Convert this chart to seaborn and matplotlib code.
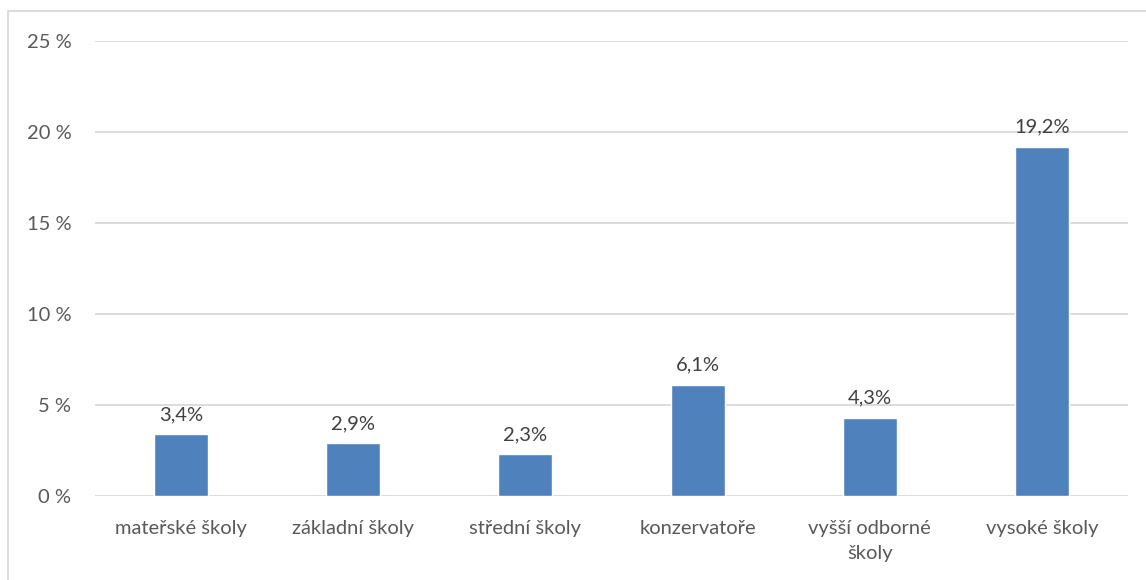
import matplotlib
matplotlib.use("Agg")
import matplotlib.pyplot as plt
import seaborn as sns
import pandas as pd
from matplotlib.patches import Rectangle

categories = ["mateřské školy", "základní školy", "střední školy",
              "konzervatoře", "vyšší odborné\nškoly", "vysoké školy"]
values = [3.4, 2.9, 2.3, 6.1, 4.3, 19.2]
y_ticks = [0, 5, 10, 15, 20, 25]
y_tick_labels = ["0 %", "5 %", "10 %", "15 %", "20 %", "25 %"]
value_labels = ["3,4%", "2,9%", "2,3%", "6,1%", "4,3%", "19,2%"]

sns.set_theme(style="white")
plt.rcParams["font.family"] = ["Lato", "DejaVu Sans"]

df = pd.DataFrame({"kategorie": categories, "podil": values})

fig = plt.figure(figsize=(11.46, 5.8), dpi=100)
ax = fig.add_axes([95 / 1146, 1 - 496 / 580, (1128 - 95) / 1146, (496 - 41) / 580])

sns.barplot(data=df, x="kategorie", y="podil", color="#4F81BD",
            width=0.314, saturation=1, ax=ax)

ax.set_ylim(0, 25)
ax.set_xlim(-0.5, len(categories) - 0.5)
ax.set_yticks(y_ticks)
ax.set_yticklabels(y_tick_labels)
ax.yaxis.grid(True, color="#D9D9D9", linewidth=1.3)
ax.set_axisbelow(True)
for s in ax.spines.values():
    s.set_visible(False)
ax.set_xlabel("")
ax.set_ylabel("")
ax.tick_params(axis="y", length=0, pad=17, labelsize=14.5, labelcolor="#595959")
ax.tick_params(axis="x", length=0, pad=17, labelsize=14.5, labelcolor="#595959")
for lbl in ax.get_xticklabels():
    lbl.set_multialignment("center")
    lbl.set_linespacing(1.6)

for i, (v, t) in enumerate(zip(values, value_labels)):
    ax.annotate(t, (i, v), xytext=(0, 8), textcoords="offset points",
                ha="center", va="bottom", fontsize=14.5, color="#404040")

# outer chart frame
fig.patches.append(Rectangle((8 / 1146, -0.1), 1.2, 1 - 11 / 580 + 0.1,
                             transform=fig.transFigure, fill=False,
                             edgecolor="#D9D9D9", linewidth=1.3))

fig.savefig("out.png", dpi=100)
